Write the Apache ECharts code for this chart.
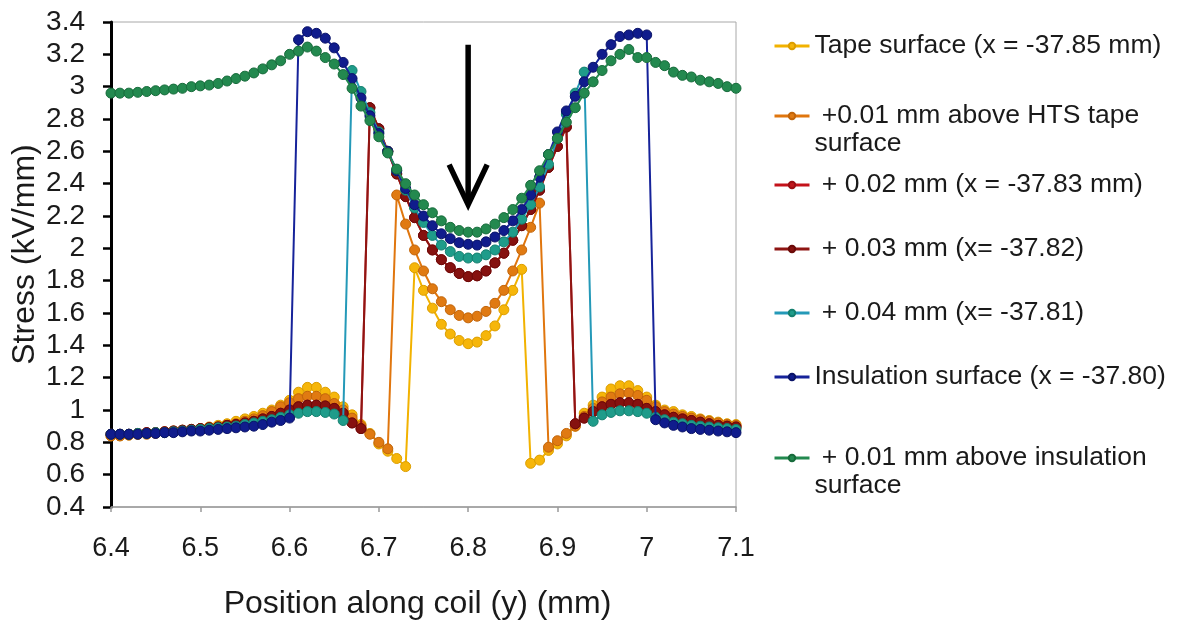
<!DOCTYPE html>
<html>
<head>
<meta charset="utf-8">
<script src="https://cdn.jsdelivr.net/npm/echarts@6/dist/echarts.min.js"></script>
<style>
  html, body { margin: 0; padding: 0; background: #ffffff; }
  #chart { width: 1177px; height: 621px; }
</style>
</head>
<body>
<div id="chart"></div>
<script>
// Sample positions along the coil (mm)
const positions = [
  6.40, 6.41, 6.42, 6.43, 6.44, 6.45, 6.46, 6.47, 6.48, 6.49,
  6.50, 6.51, 6.52, 6.53, 6.54, 6.55, 6.56, 6.57, 6.58, 6.59,
  6.60, 6.61, 6.62, 6.63, 6.64, 6.65, 6.66, 6.67, 6.68, 6.69,
  6.70, 6.71, 6.72, 6.73, 6.74, 6.75, 6.76, 6.77, 6.78, 6.79,
  6.80, 6.81, 6.82, 6.83, 6.84, 6.85, 6.86, 6.87, 6.88, 6.89,
  6.90, 6.91, 6.92, 6.93, 6.94, 6.95, 6.96, 6.97, 6.98, 6.99,
  7.00, 7.01, 7.02, 7.03, 7.04, 7.05, 7.06, 7.07, 7.08, 7.09, 7.10
];

// Electric stress (kV/mm) at each position, one list per probe line
const tapeSurface = [
  0.84, 0.84, 0.845, 0.85, 0.855, 0.86, 0.865, 0.87, 0.875, 0.88,
  0.885, 0.895, 0.905, 0.915, 0.93, 0.945, 0.96, 0.98, 1.00, 1.03,
  1.06, 1.11, 1.14, 1.14, 1.11, 1.08, 1.02, 0.97, 0.91, 0.855,
  0.79, 0.745, 0.70, 0.65, 1.88, 1.74, 1.63, 1.53, 1.47, 1.43,
  1.41, 1.42, 1.46, 1.52, 1.62, 1.74, 1.87, 0.67, 0.69, 0.75,
  0.79, 0.84, 0.90, 0.98, 1.03, 1.08, 1.13, 1.15, 1.15, 1.12,
  1.08, 1.03, 1.00, 0.99, 0.97, 0.96, 0.945, 0.935, 0.925, 0.915, 0.91
];

const aboveTape001 = [
  0.84, 0.84, 0.845, 0.85, 0.85, 0.855, 0.86, 0.865, 0.87, 0.875,
  0.88, 0.89, 0.895, 0.905, 0.915, 0.93, 0.945, 0.965, 0.99, 1.02,
  1.045, 1.07, 1.085, 1.085, 1.07, 1.04, 1.00, 0.95, 0.90, 0.85,
  0.80, 0.76, 2.33, 2.15, 1.99, 1.86, 1.75, 1.67, 1.62, 1.585,
  1.57, 1.58, 1.61, 1.66, 1.74, 1.86, 1.99, 2.13, 2.28, 0.77,
  0.81, 0.855, 0.90, 0.96, 1.01, 1.05, 1.08, 1.10, 1.105, 1.09,
  1.06, 1.02, 0.99, 0.975, 0.96, 0.95, 0.94, 0.93, 0.92, 0.91, 0.905
];

const above002 = [
  0.85, 0.85, 0.85, 0.855, 0.86, 0.86, 0.865, 0.87, 0.875, 0.88,
  0.885, 0.89, 0.895, 0.905, 0.91, 0.92, 0.93, 0.945, 0.96, 0.98,
  1.00, 1.02, 1.03, 1.03, 1.025, 1.01, 0.98, 0.92, 0.885, 2.87,
  2.74, 2.60, 2.46, 2.32, 2.19, 2.08, 1.99, 1.93, 1.88, 1.845,
  1.825, 1.83, 1.86, 1.91, 1.97, 2.05, 2.14, 2.24, 2.36, 2.50,
  2.63, 2.75, 0.915, 0.95, 0.99, 1.02, 1.035, 1.045, 1.045, 1.035,
  1.01, 0.99, 0.97, 0.955, 0.945, 0.935, 0.925, 0.915, 0.905, 0.90, 0.895
];

const above003 = [
  0.85, 0.85, 0.85, 0.855, 0.86, 0.86, 0.865, 0.87, 0.875, 0.88,
  0.885, 0.89, 0.895, 0.905, 0.91, 0.92, 0.93, 0.945, 0.96, 0.98,
  1.00, 1.02, 1.03, 1.03, 1.025, 1.01, 0.98, 0.92, 0.885, 2.87,
  2.74, 2.60, 2.46, 2.32, 2.19, 2.08, 1.99, 1.93, 1.88, 1.845,
  1.825, 1.83, 1.86, 1.91, 1.97, 2.05, 2.14, 2.24, 2.36, 2.50,
  2.63, 2.75, 0.915, 0.95, 0.99, 1.02, 1.035, 1.045, 1.045, 1.035,
  1.01, 0.99, 0.97, 0.955, 0.945, 0.935, 0.925, 0.915, 0.905, 0.90, 0.895
];

const above004 = [
  0.85, 0.85, 0.85, 0.855, 0.855, 0.86, 0.86, 0.865, 0.87, 0.875,
  0.88, 0.885, 0.89, 0.895, 0.90, 0.91, 0.92, 0.93, 0.94, 0.955,
  0.97, 0.98, 0.99, 0.99, 0.985, 0.975, 0.935, 3.10, 2.97, 2.84,
  2.72, 2.60, 2.48, 2.36, 2.25, 2.16, 2.08, 2.02, 1.98, 1.95,
  1.94, 1.94, 1.96, 1.99, 2.04, 2.10, 2.18, 2.27, 2.38, 2.52,
  2.68, 2.83, 2.96, 3.09, 0.93, 0.97, 0.985, 0.995, 0.995, 0.99,
  0.98, 0.955, 0.94, 0.925, 0.915, 0.905, 0.90, 0.895, 0.89, 0.885, 0.88
];

const insulationSurface = [
  0.85, 0.85, 0.85, 0.85, 0.855, 0.855, 0.86, 0.86, 0.865, 0.87,
  0.87, 0.875, 0.88, 0.885, 0.89, 0.895, 0.90, 0.91, 0.925, 0.935,
  0.95, 3.29, 3.34, 3.33, 3.30, 3.24, 3.15, 3.05, 2.93, 2.82,
  2.71, 2.60, 2.48, 2.37, 2.27, 2.20, 2.14, 2.09, 2.06, 2.035,
  2.025, 2.02, 2.04, 2.07, 2.11, 2.17, 2.24, 2.33, 2.44, 2.58,
  2.72, 2.85, 2.94, 3.03, 3.12, 3.20, 3.26, 3.31, 3.32, 3.33,
  3.32, 0.94, 0.92, 0.905, 0.895, 0.885, 0.88, 0.875, 0.87, 0.865, 0.86
];

const aboveInsulation001 = [
  2.96, 2.96, 2.96, 2.965, 2.97, 2.975, 2.98, 2.985, 2.99, 3.00,
  3.005, 3.01, 3.02, 3.035, 3.05, 3.065, 3.085, 3.11, 3.135, 3.16,
  3.20, 3.22, 3.245, 3.22, 3.18, 3.14, 3.075, 2.99, 2.88, 2.79,
  2.69, 2.59, 2.49, 2.40, 2.33, 2.27, 2.22, 2.17, 2.13, 2.11,
  2.10, 2.10, 2.12, 2.15, 2.19, 2.24, 2.31, 2.39, 2.48, 2.58,
  2.68, 2.78, 2.87, 2.96, 3.03, 3.10, 3.16, 3.20, 3.23, 3.18,
  3.18, 3.15, 3.13, 3.09, 3.07, 3.06, 3.04, 3.03, 3.02, 3.00, 2.99
];

// Legend labels, in drawing order
const seriesNames = [
  'Tape surface (x = -37.85 mm)',
  ' +0.01 mm above HTS tape surface',
  ' + 0.02 mm (x = -37.83 mm)',
  ' + 0.03 mm (x= -37.82)',
  ' + 0.04 mm (x= -37.81)',
  'Insulation surface (x = -37.80)',
  ' + 0.01 mm above insulation surface'
];
const legendLabels = [
  'Tape surface (x = -37.85 mm)',
  '\n +0.01 mm above HTS tape\nsurface',
  ' + 0.02 mm (x = -37.83 mm)',
  ' + 0.03 mm (x= -37.82)',
  ' + 0.04 mm (x= -37.81)',
  'Insulation surface (x = -37.80)',
  '\n + 0.01 mm above insulation\nsurface'
];
const seriesValues = [
  tapeSurface, aboveTape001, above002, above003,
  above004, insulationSurface, aboveInsulation001
];

// Marker fill, marker edge and connecting line colours
const markerColors = ['#f6b60a', '#e07a12', '#c0161c', '#86110f', '#1f9c8a', '#101c8c', '#23894f'];
const markerEdges  = ['#dc9e00', '#c2650a', '#9c0f14', '#6a0a08', '#14806f', '#0a1368', '#176b3b'];
const lineColors   = ['#f2b200', '#e0760e', '#c4121a', '#8e1512', '#2499b8', '#16239a', '#23894f'];

// Icon centre heights of the legend rows (px)
const legendRowCentres = [46, 116, 185, 249, 313, 377, 458];

const FONT = 'Liberation Sans, Arial, sans-serif';

const chart = echarts.init(document.getElementById('chart'), null, { renderer: 'canvas' });

const seriesList = seriesNames.map((name, s) => ({
  name: name,
  type: 'line',
  data: positions.map((x, i) => [x, seriesValues[s][i]]),
  symbol: 'circle',
  symbolSize: 10,
  showAllSymbol: true,
  itemStyle: { color: markerColors[s], borderColor: markerEdges[s], borderWidth: 1 },
  lineStyle: { color: lineColors[s], width: 2 },
  emphasis: { disabled: true },
  z: 2 + s
}));

const LINE_H = 28;
const legendList = seriesNames.map((name, s) => {
  const lines = legendLabels[s].split('\n').length;
  return {
    data: [name],
    left: 773,
    top: legendRowCentres[s] - (lines * LINE_H) / 2,
    padding: 0,
    orient: 'vertical',
    itemWidth: 35,
    itemHeight: 8,
    selectedMode: false,
    formatter: () => legendLabels[s],
    lineStyle: { width: 3 },
    textStyle: { fontFamily: FONT, fontSize: 26.5, color: '#1a1a1a', lineHeight: LINE_H }
  };
});

chart.setOption({
  animation: false,
  backgroundColor: '#ffffff',
  grid: {
    left: 111, right: 441, top: 22, bottom: 114,
    outerBoundsMode: 'none',
    show: true, borderColor: '#a8a8a8', borderWidth: 1
  },
  legend: legendList,
  xAxis: {
    type: 'value',
    min: 6.4, max: 7.1, interval: 0.1,
    name: 'Position along coil (y) (mm)',
    nameLocation: 'middle',
    nameGap: 81,
    nameMoveOverlap: false,
    nameTextStyle: { fontFamily: FONT, fontSize: 32, color: '#1a1a1a', padding: [0, 12, 0, 0] },
    axisLine: { show: true, lineStyle: { color: '#9a9a9a', width: 1.5 } },
    axisTick: { show: true, length: 5, lineStyle: { color: '#9a9a9a', width: 1.5 } },
    axisLabel: { fontFamily: FONT, fontSize: 27, color: '#1a1a1a', margin: 28 },
    splitLine: { show: false }
  },
  yAxis: {
    type: 'value',
    min: 0.4, max: 3.4, interval: 0.2,
    name: 'Stress (kV/mm)',
    nameLocation: 'middle',
    nameGap: 70,
    nameMoveOverlap: false,
    nameTextStyle: { fontFamily: FONT, fontSize: 32, color: '#1a1a1a', padding: [0, 0, 0, 20] },
    axisLine: { show: true, lineStyle: { color: '#000000', width: 3 } },
    axisTick: { show: true, length: 8, lineStyle: { color: '#000000', width: 2.5 } },
    axisLabel: { fontFamily: FONT, fontSize: 28, color: '#1a1a1a', margin: 26 },
    splitLine: { show: false }
  },
  series: seriesList
});

// Downward arrow marking the centre of the gap, placed in data coordinates
const arrowX = 6.8;
const arrowTopValue = 3.26;
const arrowTipValue = 2.27;
const arrowStart = chart.convertToPixel({ gridIndex: 0 }, [arrowX, arrowTopValue]);
const arrowEnd = chart.convertToPixel({ gridIndex: 0 }, [arrowX, arrowTipValue]);
chart.setOption({
  graphic: [
    {
      type: 'line', z: 50,
      shape: { x1: arrowStart[0], y1: arrowStart[1], x2: arrowEnd[0], y2: arrowEnd[1] - 3 },
      style: { stroke: '#000000', lineWidth: 5.5 }
    },
    {
      type: 'polyline', z: 50,
      shape: { points: [[arrowEnd[0] - 19, arrowEnd[1] - 40], [arrowEnd[0], arrowEnd[1]], [arrowEnd[0] + 19, arrowEnd[1] - 40]] },
      style: { stroke: '#000000', lineWidth: 5.5, fill: null, lineJoin: 'miter' }
    }
  ]
});
</script>
</body>
</html>
